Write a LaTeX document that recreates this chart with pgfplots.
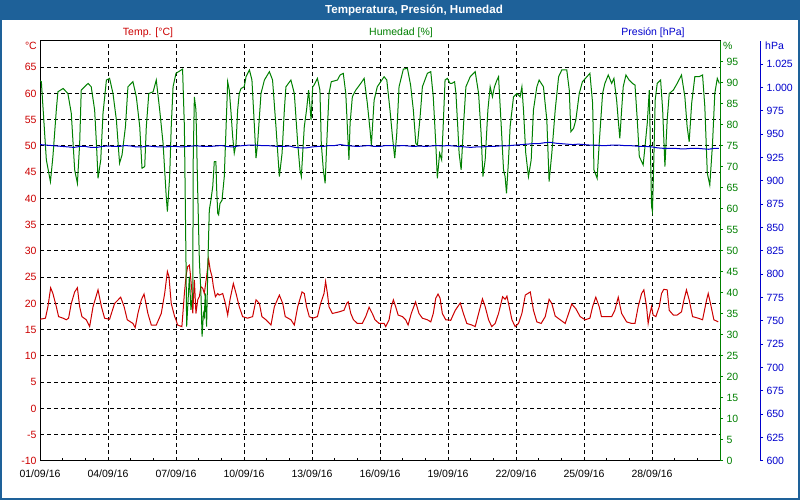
\documentclass[border=0pt]{standalone}
\usepackage{pgfplots}
\pgfplotsset{compat=1.18}
\usepackage{fontspec}
\setmainfont{Liberation Sans}

\definecolor{framebl}{RGB}{30,97,153}
\definecolor{tred}{RGB}{204,0,0}
\definecolor{hgreen}{RGB}{0,128,0}
\definecolor{pblue}{RGB}{0,0,205}
\newcommand{\tf}{\fontsize{10.5}{12}\selectfont}

\begin{document}
\begin{tikzpicture}[x=1pt,y=1pt]
\path[use as bounding box] (0,0) rectangle (800,500);
\fill[white] (0,0) rectangle (800,500);
\fill[framebl] (0,480) rectangle (800,500);
\draw[framebl, line width=2pt] (1,1) rectangle (799,499);
\node[white, font=\fontsize{11.6}{13}\selectfont\bfseries] at (414,490) {Temperatura, Presión, Humedad};
\node[tred, font=\tf] at (148,467) {Temp. [°C]};
\node[hgreen, font=\tf] at (401,467) {Humedad [\%]};
\node[pblue, font=\tf] at (653,467) {Presión [hPa]};
\node[tred, font=\tf, anchor=east, inner sep=0pt] at (37,454) {°C};
\node[hgreen, font=\tf, anchor=west, inner sep=0pt] at (723,454) {\%};
\node[pblue, font=\tf, anchor=west, inner sep=0pt] at (765,454) {hPa};

% temperature axis (grid, dates)
\begin{axis}[
  at={(40pt,39pt)}, anchor=south west,
  scale only axis, width=680pt, height=420pt,
  xmin=0, xmax=30, ymin=-10, ymax=70,
  xtick={0,3,...,27},
  xticklabels={01/09/16,04/09/16,07/09/16,10/09/16,13/09/16,16/09/16,19/09/16,22/09/16,25/09/16,28/09/16},
  minor xtick={1,2,...,29},
  xtick pos=bottom,
  ytick={-10,-5,...,65},
  grid=major,
  major grid style={black, dash pattern=on 4pt off 3pt, line width=1pt},
  axis line style={black, line width=1pt},
  tick align=inside,
  xtick style={black, line width=1pt},
  major tick length=3pt, minor tick length=3pt,
  ytick style={draw=none},
  yticklabel style={tred},
  xticklabel style={yshift=-5pt},
  tick label style={font=\tf},
  /pgf/number format/assume math mode=true,
]
\addplot[tred, line width=1pt] coordinates {
(0,17.0)(0.24,17.2)(0.35,19.4)(0.47,23.0)(0.57,21.9)(0.72,19.4)(0.82,17.5)(1.02,17.2)(1.16,16.9)(1.26,17.2)(1.38,20.0)(1.53,22.2)(1.65,23.0)(1.75,19.4)(1.85,17.5)(2.04,16.9)(2.19,15.6)(2.34,19.4)(2.56,22.6)(2.71,19.4)(2.85,17.2)(3.07,17.0)(3.29,20.0)(3.56,21.2)(3.71,19.4)(3.85,16.9)(4.1,16.2)(4.2,15.4)(4.32,18.1)(4.47,20.7)(4.59,21.8)(4.76,18.1)(4.91,15.9)(5.13,15.9)(5.35,18.1)(5.5,21.9)(5.62,26.1)(5.69,25.1)(5.79,20.0)(5.94,17.5)
(6.0,16.9)(6.07,15.9)(6.26,15.6)(6.37,21.9)(6.44,25.1)(6.51,27.0)(6.59,27.3)(6.63,25.7)(6.71,21.9)(6.74,18.1)(6.81,24.5)(6.88,18.1)(6.96,20.7)(7.03,21.3)(7.1,23.2)(7.18,22.9)(7.25,21.9)(7.29,23.2)(7.35,25.1)(7.4,27.0)(7.44,28.4)(7.51,26.4)(7.59,25.1)(7.65,23.2)(7.74,21.3)(7.84,21.9)(7.91,21.6)(8.06,21.9)(8.18,20.0)(8.28,17.8)(8.38,20.7)(8.53,23.8)(8.65,21.9)(8.79,19.4)(8.94,17.5)(9.16,17.2)(9.38,17.5)(9.53,20.7)(9.68,20.0)(9.79,17.5)(9.97,16.9)(10.19,15.9)(10.34,19.4)(10.56,21.6)(10.71,20.0)(10.82,17.5)(11.07,16.9)(11.22,15.9)(11.37,19.4)(11.56,22.2)(11.66,21.9)(11.76,19.4)(11.88,17.5)(12.03,17.2)
(12.24,17.5)(12.38,20.0)(12.53,21.9)(12.6,24.2)(12.68,21.9)(12.75,19.4)(12.9,18.1)(13.19,18.4)(13.41,18.7)(13.53,20.0)(13.6,20.3)(13.71,18.1)(13.83,16.9)(14.0,16.2)(14.22,16.2)(14.37,17.5)(14.52,19.3)(14.66,18.1)(14.78,16.9)(14.96,16.2)(15.18,16.2)(15.25,15.6)(15.4,16.9)(15.5,19.4)(15.59,20.7)(15.69,19.4)(15.8,17.8)(15.99,17.5)(16.13,16.9)(16.24,15.9)(16.38,18.1)(16.57,20.3)(16.72,18.1)(16.87,17.2)(17.09,16.9)(17.24,16.5)(17.35,18.1)(17.46,21.0)(17.56,21.8)(17.65,21.0)(17.75,18.1)(17.9,16.9)(18.12,16.8)
(18.32,18.7)(18.54,20.1)(18.68,18.1)(18.83,16.2)(19.05,15.9)(19.2,15.6)(19.35,18.1)(19.52,20.9)(19.64,19.4)(19.79,16.9)(19.93,15.6)(20.08,16.2)(20.23,18.1)(20.41,21.3)(20.52,20.8)(20.6,21.4)(20.7,19.4)(20.82,16.9)(20.96,15.6)(21.11,16.2)(21.26,18.1)(21.41,21.6)(21.63,22.2)(21.77,18.7)(21.92,16.5)(22.11,16.2)(22.29,17.5)(22.46,20.8)(22.58,20.0)(22.73,17.6)(22.95,16.9)(23.17,16.2)(23.32,18.1)(23.46,19.9)(23.64,19.0)(23.83,17.5)(24.05,16.9)(24.26,17.2)
(24.38,19.4)(24.52,21.2)(24.67,19.4)(24.77,17.5)(24.99,17.5)(25.22,17.5)(25.36,18.7)(25.51,21.2)(25.66,18.1)(25.88,16.5)(26.1,16.2)(26.25,16.2)(26.39,19.4)(26.54,21.9)(26.64,22.6)(26.76,19.4)(26.83,16.2)(26.91,18.1)(26.98,19.4)(27.05,17.8)(27.17,17.5)(27.32,19.4)(27.42,21.9)(27.52,22.7)(27.67,22.6)(27.76,18.7)(27.94,17.8)(28.11,17.8)(28.3,18.4)(28.41,20.7)(28.52,22.6)(28.64,20.7)(28.79,17.5)(29.04,17.2)(29.23,16.9)(29.41,20.7)(29.48,21.9)(29.58,20.0)(29.73,16.9)(29.92,16.5)
};
\end{axis}

% humidity axis
\begin{axis}[
  at={(40pt,39pt)}, anchor=south west,
  scale only axis, width=680pt, height=420pt,
  xmin=0, xmax=30, ymin=0, ymax=100,
  axis y line*=right, axis x line=none,
  ytick={0,5,...,95},
  y axis line style={hgreen, line width=1pt},
  ytick style={hgreen, line width=1pt},
  tick align=outside, major tick length=3pt,
  yticklabel style={hgreen, font=\tf},
  /pgf/number format/assume math mode=true,
]
\addplot[hgreen, line width=1pt] coordinates {
(0,90.5)(0.06,90.3)(0.28,71.7)(0.46,66.5)(0.57,72.5)(0.72,83.6)(0.79,87.9)(1.02,88.7)(1.23,87.5)(1.38,82.8)(1.53,69.3)(1.65,66.1)(1.75,75.6)(1.82,88.3)(2.12,89.9)(2.26,89.1)(2.41,83.6)(2.49,75.6)(2.56,67.3)(2.68,71.7)(2.78,82.8)(2.93,90.7)(3.07,91.1)(3.22,87.5)(3.37,81.2)(3.51,70.9)(3.62,72.9)(3.77,79.6)(3.88,89.1)(4.1,90.3)(4.25,86.7)(4.4,79.6)(4.5,69.7)(4.62,70.1)(4.69,79.6)(4.8,87.5)(4.99,87.9)(5.13,90.7)(5.28,83.6)(5.43,75.6)(5.57,62.9)(5.62,59.4)(5.72,67.7)(5.79,79.6)(5.87,89.1)
(6.0,92.3)(6.29,93.3)(6.37,79.6)(6.44,47.9)(6.47,32.0)(6.51,36.0)(6.59,43.9)(6.66,36.0)(6.74,39.9)(6.76,71.7)(6.81,86.7)(6.88,83.6)(6.96,63.7)(7.03,47.9)(7.1,39.9)(7.15,29.6)(7.21,35.2)(7.25,34.4)(7.29,39.9)(7.35,32.0)(7.41,47.9)(7.47,59.8)(7.54,62.1)(7.62,65.3)(7.69,71.3)(7.76,71.3)(7.79,65.3)(7.84,59.0)(7.88,58.6)(7.94,61.3)(8.03,62.1)(8.13,67.7)(8.21,79.6)(8.28,90.3)(8.35,88.3)(8.43,82.8)(8.5,77.2)(8.57,73.3)(8.65,75.6)(8.72,83.6)(8.79,87.5)(8.87,88.7)(9.01,89.1)(9.09,91.5)(9.24,93.1)(9.35,90.7)(9.46,79.6)(9.53,72.1)(9.6,75.6)(9.75,87.5)(9.9,90.7)(10.12,92.7)(10.26,90.7)(10.41,79.6)(10.56,67.7)(10.68,73.3)(10.78,83.6)(10.85,89.1)(11.07,90.7)(11.22,87.5)(11.37,75.6)(11.47,69.3)(11.53,67.7)(11.59,73.3)(11.66,79.6)(11.76,83.6)(11.85,88.3)(11.96,81.2)(12.03,89.1)
(12.09,89.5)(12.24,91.1)(12.35,88.3)(12.41,75.6)(12.5,69.3)(12.58,66.1)(12.65,75.6)(12.75,87.5)(12.85,90.3)(13.12,90.7)(13.24,91.9)(13.38,92.3)(13.49,87.5)(13.56,79.6)(13.63,71.7)(13.68,80.4)(13.78,86.7)(13.93,88.3)(14.15,89.9)(14.3,91.1)(14.44,85.2)(14.56,78.8)(14.62,75.2)(14.74,85.9)(14.88,89.1)(15.03,90.3)(15.18,91.5)(15.3,90.7)(15.44,83.6)(15.55,77.2)(15.65,72.1)(15.74,78.0)(15.84,89.1)(16.03,93.3)(16.21,93.5)(16.35,89.5)(16.47,83.6)(16.58,75.6)(16.65,75.2)(16.77,82.0)(16.87,89.1)(17.09,92.3)(17.24,92.7)(17.35,86.7)(17.46,75.6)(17.53,67.3)(17.63,73.3)(17.72,71.7)(17.78,78.8)(17.87,90.7)(17.97,91.1)(18.09,89.9)
(18.17,89.9)(18.29,90.3)(18.35,87.5)(18.43,79.6)(18.49,73.3)(18.58,69.3)(18.68,79.6)(18.79,89.1)(18.98,91.5)(19.2,92.7)(19.35,87.5)(19.46,78.0)(19.54,67.7)(19.64,71.7)(19.76,83.6)(19.86,89.1)(19.96,86.7)(20.05,89.1)(20.16,90.7)(20.23,91.5)(20.35,79.6)(20.45,69.3)(20.52,67.7)(20.58,63.7)(20.67,71.7)(20.74,79.6)(20.89,86.7)(21.04,87.5)(21.18,86.7)(21.26,89.1)(21.33,83.6)(21.43,73.3)(21.55,67.7)(21.67,71.7)(21.77,83.6)(21.92,89.1)(22.02,90.7)(22.21,89.1)(22.36,81.2)(22.46,66.5)(22.58,73.3)(22.73,83.6)(22.88,91.5)(23.02,93.1)(23.24,93.1)(23.35,88.3)(23.42,78.4)(23.54,79.2)(23.64,81.2)(23.79,87.5)(23.93,90.3)(24.13,91.5)(24.26,92.3)
(24.38,85.2)(24.44,69.3)(24.58,67.3)(24.67,75.6)(24.82,87.5)(24.92,89.9)(25.07,91.9)(25.22,89.9)(25.32,91.1)(25.44,85.9)(25.51,81.2)(25.58,76.8)(25.66,83.6)(25.73,89.1)(25.85,91.9)(25.99,90.7)(26.14,89.9)(26.25,89.5)(26.35,81.2)(26.44,72.5)(26.61,70.5)(26.69,74.8)(26.79,80.4)(26.88,88.3)(26.94,71.7)(26.98,60.6)(27.02,59.4)(27.08,71.7)(27.14,85.9)(27.23,89.9)(27.38,90.7)(27.47,83.6)(27.57,70.1)(27.67,81.2)(27.76,87.5)(27.94,88.3)(28.11,89.9)(28.3,91.9)(28.45,86.7)(28.55,79.6)(28.64,76.0)(28.75,85.2)(28.89,91.5)(29.08,91.5)(29.23,91.9)(29.33,84.4)(29.44,68.5)(29.55,65.7)(29.67,75.6)(29.77,87.5)(29.88,91.1)(29.97,89.9)
};
\end{axis}

% pressure axis (its line stands 40pt right of the plot)
\begin{axis}[
  at={(40pt,39pt)}, anchor=south west,
  scale only axis, width=720pt, height=420pt,
  xmin=0, xmax=31.7647, ymin=600, ymax=1050,
  axis y line*=right, axis x line=none,
  ytick={600,625,...,1025},
  y axis line style={pblue, line width=1pt},
  ytick style={pblue, line width=1pt},
  tick align=outside, major tick length=3pt,
  yticklabel style={pblue, font=\tf},
  /pgf/number format/.cd, 1000 sep={.}, assume math mode=true,
]
\addplot[pblue, line width=1pt] coordinates {
(0,939)(0.25,938.5)(0.5,938)(0.75,937.5)(1,937)(1.25,936.5)(1.5,936)(1.75,937)(2,937)(2.25,936)(2.5,936)(2.75,937)(3,937.5)(3.25,937)(3.5,937)(3.75,938)(4,937.5)(4.25,936.5)(4.5,936.5)(4.75,937.5)(5,937)(5.25,936.5)(5.5,936.5)(5.75,937)
(6,937)(6.25,936.5)(6.5,937)(6.75,937.5)(7,937.5)(7.25,937)(7.5,937)(7.75,937.5)(8,938)(8.25,937)(8.5,936.5)(8.75,937.5)(9,938)(9.25,938.5)(9.5,938.5)(9.75,938)(10,938)(10.25,937.5)(10.5,937)(10.75,937)(11,937.5)(11.25,936)(11.5,935.5)(11.75,935.5)
(12,936.5)(12.25,937)(12.5,937)(12.75,938)(13,938)(13.25,939)(13.5,938)(13.75,937.5)(14,937)(14.25,937.5)(14.5,938)(14.75,937)(15,937)(15.25,938)(15.5,938)(15.75,937.5)(16,938)(16.25,937.5)(16.5,937)(16.75,937.5)(17,937)(17.25,937.5)(17.5,938)(17.75,937.5)
(18,938)(18.25,937.5)(18.5,937)(18.75,936.5)(19,936)(19.25,936.5)(19.5,936.5)(19.75,937)(20,937)(20.25,937.5)(20.5,937.5)(20.75,938)(21,938.5)(21.25,939)(21.5,939.5)(21.75,940)(22,940)(22.25,941)(22.5,941.5)(22.75,940.5)(23,940)(23.25,939.5)(23.5,939)(23.75,939.5)
(24,939)(24.25,938.5)(24.5,938.5)(24.75,938)(25,938)(25.25,938.5)(25.5,938.5)(25.75,938)(26,938)(26.25,937.5)(26.5,937)(26.75,937)(27,936.5)(27.25,935.5)(27.5,935)(27.75,935)(28,935)(28.25,934.5)(28.5,934.5)(28.75,935)(29,935)(29.25,934.5)(29.5,934)(29.75,935)(29.95,935)
};
\end{axis}
\end{tikzpicture}
\end{document}
